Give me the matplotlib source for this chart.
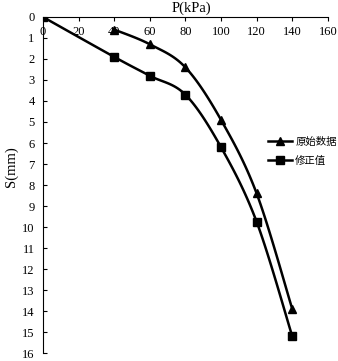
import numpy as np
import matplotlib
matplotlib.use("Agg")
import matplotlib.pyplot as plt

plt.rcParams['font.family'] = ['Liberation Serif', 'Noto Sans CJK SC']

# data
p_orig = [40, 60, 80, 100, 120, 140]
s_orig = [0.6, 1.3, 2.4, 4.9, 8.4, 13.9]
p_corr = [0, 40, 60, 80, 100, 120, 140]
s_corr = [0.0, 1.9, 2.8, 3.7, 6.2, 9.75, 15.2]
labels = ['原始数据', '修正值']


def smooth(x, y, n=20):
    # Catmull-Rom style smoothing like Excel's smoothed lines
    x = np.asarray(x, float)
    y = np.asarray(y, float)
    pts = np.column_stack([x, y])
    ext = np.vstack([pts[0], pts, pts[-1]])
    out = []
    for i in range(1, len(ext) - 2):
        p0, p1, p2, p3 = ext[i - 1], ext[i], ext[i + 1], ext[i + 2]
        t = np.linspace(0, 1, n)[:, None]
        c = 0.5 * ((2 * p1) + (-p0 + p2) * t + (2 * p0 - 5 * p1 + 4 * p2 - p3) * t ** 2
                   + (-p0 + 3 * p1 - 3 * p2 + p3) * t ** 3)
        out.append(c)
    out = np.vstack(out)
    return out[:, 0], out[:, 1]


fig = plt.figure(figsize=(3.38, 3.61), dpi=100)
ax = fig.add_axes([0.127, 0.022, 0.843, 0.931])

for px, sy, m, lab in [(p_orig, s_orig, '^', labels[0]), (p_corr, s_corr, 's', labels[1])]:
    xs, ys = smooth(px, sy)
    ax.plot(xs, ys, color='black', lw=1.8)
    ax.plot(px, sy, ls='none', marker=m, color='black', ms=6)
    ax.plot([], [], color='black', lw=1.8, marker=m, ms=6, label=lab)

ax.set_xlim(0, 160)
ax.set_ylim(16, 0)
ax.set_xticks(range(0, 161, 20))
ax.set_yticks(range(0, 17))
ax.xaxis.tick_top()
ax.xaxis.set_label_position('top')
ax.tick_params(axis='x', direction='in', length=3, pad=-15, labelsize=9)
ax.tick_params(axis='y', direction='in', length=3, pad=6, labelsize=9)
ax.spines['right'].set_visible(False)
ax.spines['bottom'].set_visible(False)
ax.set_xlabel('P(kPa)', fontsize=10.5)
ax.xaxis.set_label_coords(0.52, 1.005)
ax.xaxis.label.set_va('bottom')
ax.set_ylabel('S(mm)', fontsize=10.5)
ax.yaxis.label.set_va('center')
ax.yaxis.set_label_coords(-0.11, 0.555)

ax.legend(loc='center left', bbox_to_anchor=(0.79, 0.60), frameon=False,
          fontsize=7.5, handlelength=2.3, handletextpad=0.3, labelspacing=0.85,
          borderaxespad=0, borderpad=0)

fig.savefig('out.png', dpi=100)
